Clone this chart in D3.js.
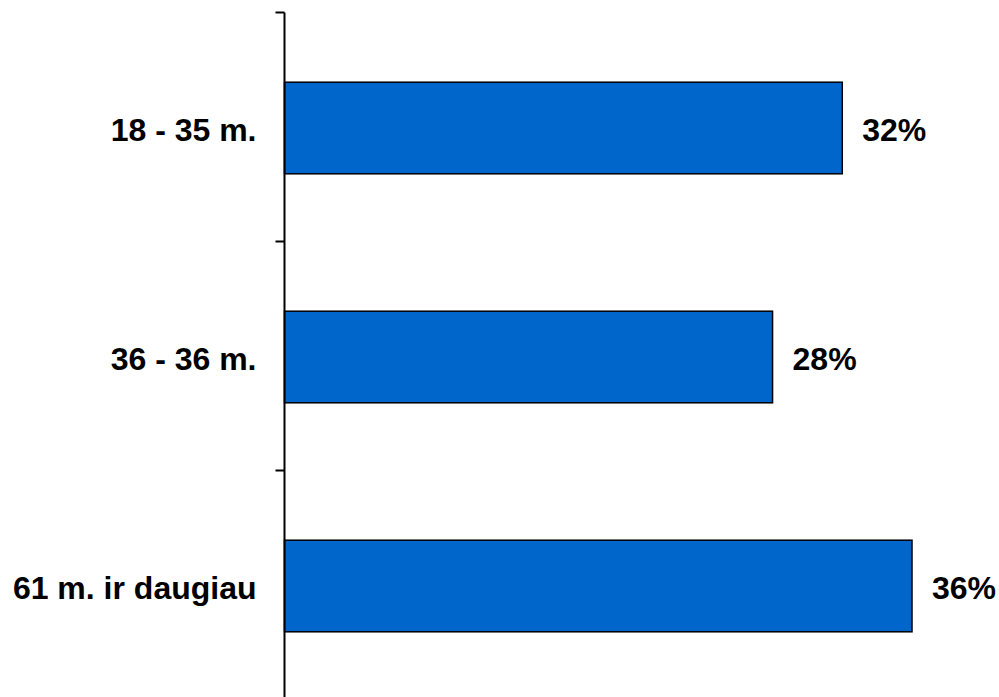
<!DOCTYPE html>
<html><head><meta charset="utf-8">
<script src="https://cdn.jsdelivr.net/npm/d3@7"></script>
<style>html,body{margin:0;padding:0;background:#fff;}svg{display:block;}</style>
</head><body>
<svg id="chart" width="999" height="697"></svg>
<script>
const categories = ["18 - 35 m.", "36 - 36 m.", "61 m. ir daugiau"];
const values = [32, 28, 36];
const valueLabels = ["32%", "28%", "36%"];

(function () {
const svg = d3.select("#chart");
const axisX = 284.5;
const plotTop = 12.5, plotBottom = 699.5;

const x = d3.scaleLinear().domain([0, 36]).range([axisX, 912]);
const y = d3.scaleBand().domain(categories).range([plotTop, plotBottom]).paddingInner(0.6).paddingOuter(0.3);
const step = y.step();
const barShift = 1;

// bars
svg.selectAll("rect.bar").data(values).enter().append("rect")
  .attr("class", "bar")
  .attr("x", x(0))
  .attr("y", (d, i) => y(categories[i]) + barShift)
  .attr("width", d => x(d) - x(0))
  .attr("height", y.bandwidth())
  .attr("fill", "#0066CC")
  .attr("stroke", "#000")
  .attr("stroke-width", 1.5);

// axis line
svg.append("line")
  .attr("x1", axisX).attr("x2", axisX)
  .attr("y1", plotTop).attr("y2", plotBottom)
  .attr("stroke", "#000").attr("stroke-width", 2);

// ticks at band boundaries
const tickYs = d3.range(categories.length + 1).map(k => plotTop + k * step);
svg.selectAll("line.tick").data(tickYs).enter().append("line")
  .attr("class", "tick")
  .attr("x1", axisX - 9).attr("x2", axisX)
  .attr("y1", d => d).attr("y2", d => d)
  .attr("stroke", "#000").attr("stroke-width", 2);

// category labels
svg.selectAll("text.cat").data(categories).enter().append("text")
  .attr("class", "cat")
  .attr("x", axisX - 28)
  .attr("y", d => y(d) + y.bandwidth() / 2 + barShift)
  .attr("dy", "0.4em")
  .attr("text-anchor", "end")
  .attr("font-family", "Liberation Sans, Arial, sans-serif")
  .attr("font-weight", "bold")
  .attr("font-size", 32)
  .attr("fill", "#000")
  .text(d => d);

// value labels
svg.selectAll("text.val").data(values).enter().append("text")
  .attr("class", "val")
  .attr("x", d => x(d) + 20)
  .attr("y", (d, i) => y(categories[i]) + y.bandwidth() / 2 + barShift)
  .attr("dy", "0.4em")
  .attr("text-anchor", "start")
  .attr("font-family", "Liberation Sans, Arial, sans-serif")
  .attr("font-weight", "bold")
  .attr("font-size", 32)
  .attr("fill", "#000")
  .text((d, i) => valueLabels[i]);
})();
</script>
</body></html>
